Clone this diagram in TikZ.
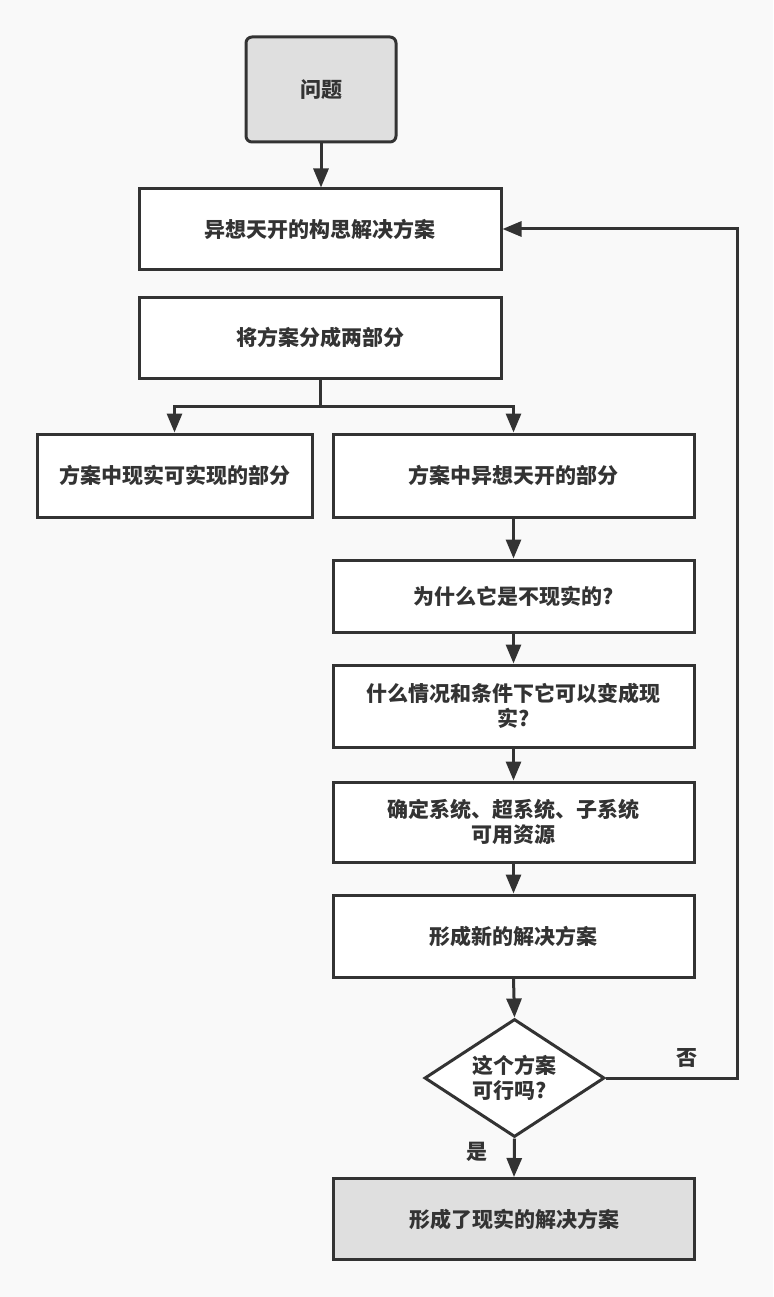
\documentclass[tikz,border=0pt]{standalone}
\usepackage{fontspec}
\setmainfont{Noto Sans CJK SC}
\usetikzlibrary{arrows.meta,shapes.geometric}
\definecolor{bg}{HTML}{F9F9F9}
\definecolor{ink}{HTML}{333333}
\definecolor{gfill}{HTML}{DFDFDF}
\tikzset{
  base/.style={draw=ink, line width=3pt, text=ink, font=\bfseries\fontsize{21}{25.5}\selectfont, inner sep=0pt, align=center},
  box/.style={base, rectangle, fill=white},
  gbox/.style={base, rectangle, fill=gfill},
  decision/.style={base, diamond, aspect=1.53, fill=white, minimum width=180pt, minimum height=118pt, align=left},
  lbl/.style={text=ink, font=\bfseries\fontsize{21}{25}\selectfont, inner sep=0pt},
  arr/.style={draw=ink, line width=3pt, -{Triangle[length=19pt,width=15pt]}},
  ln/.style={draw=ink, line width=3pt}
}
\begin{document}
\begin{tikzpicture}[x=1pt,y=-1pt]
\fill[bg] (0,0) rectangle (773,1297);
\useasboundingbox (0,0) rectangle (773,1297);

\node[gbox, rounded corners=6pt, minimum width=150pt, minimum height=105pt] (q) at (321,89.5) {问题};
\node[box, minimum width=362pt, minimum height=80pt] (a) at (320,229) {异想天开的构思解决方案};
\node[box, minimum width=362pt, minimum height=81pt] (b) at (320,337.5) {将方案分成两部分};
\node[box, minimum width=275pt, minimum height=83pt] (l) at (174.5,475.5) {方案中现实可实现的部分};
\node[box, minimum width=361pt, minimum height=83pt] (r) at (513.5,475.5) {方案中异想天开的部分};
\node[box, minimum width=361pt, minimum height=72pt] (w) at (513.5,596) {为什么它是不现实的?};
\node[box, minimum width=361pt, minimum height=82pt] (c) at (513.5,706) {什么情况和条件下它可以变成现\\实?};
\node[box, minimum width=361pt, minimum height=80pt] (d) at (513.5,822) {确定系统、超系统、子系统\\可用资源};
\node[box, minimum width=361pt, minimum height=82pt] (n) at (513.5,936) {形成新的解决方案};
\node[decision] (dec) at (514.5,1078) {这个方案\\可行吗?};
\node[gbox, minimum width=361pt, minimum height=81pt] (f) at (514,1219) {形成了现实的解决方案};

\coordinate (loop) at (737,1078);
\coordinate (split) at (320,406);

\draw[arr] (q.south) -- (q.south |- a.north);
\draw[ln] (b.south) -- (split);
\draw[arr] (split) -| (l.north);
\draw[arr] (split) -| (r.north);
\draw[arr] (r.south) -- (w.north);
\draw[arr] (w.south) -- (c.north);
\draw[arr] (c.south) -- (d.north);
\draw[arr] (d.south) -- (n.north);
\draw[arr] (n.south) -- (dec.north);
\draw[arr] (dec.south) -- (f.north);
\draw[arr] (dec.east) -- (loop) |- (a.east);

\node[lbl] (no) at (687,1058) {否};
\node[lbl] (yes) at (477,1152) {是};
\end{tikzpicture}
\end{document}
